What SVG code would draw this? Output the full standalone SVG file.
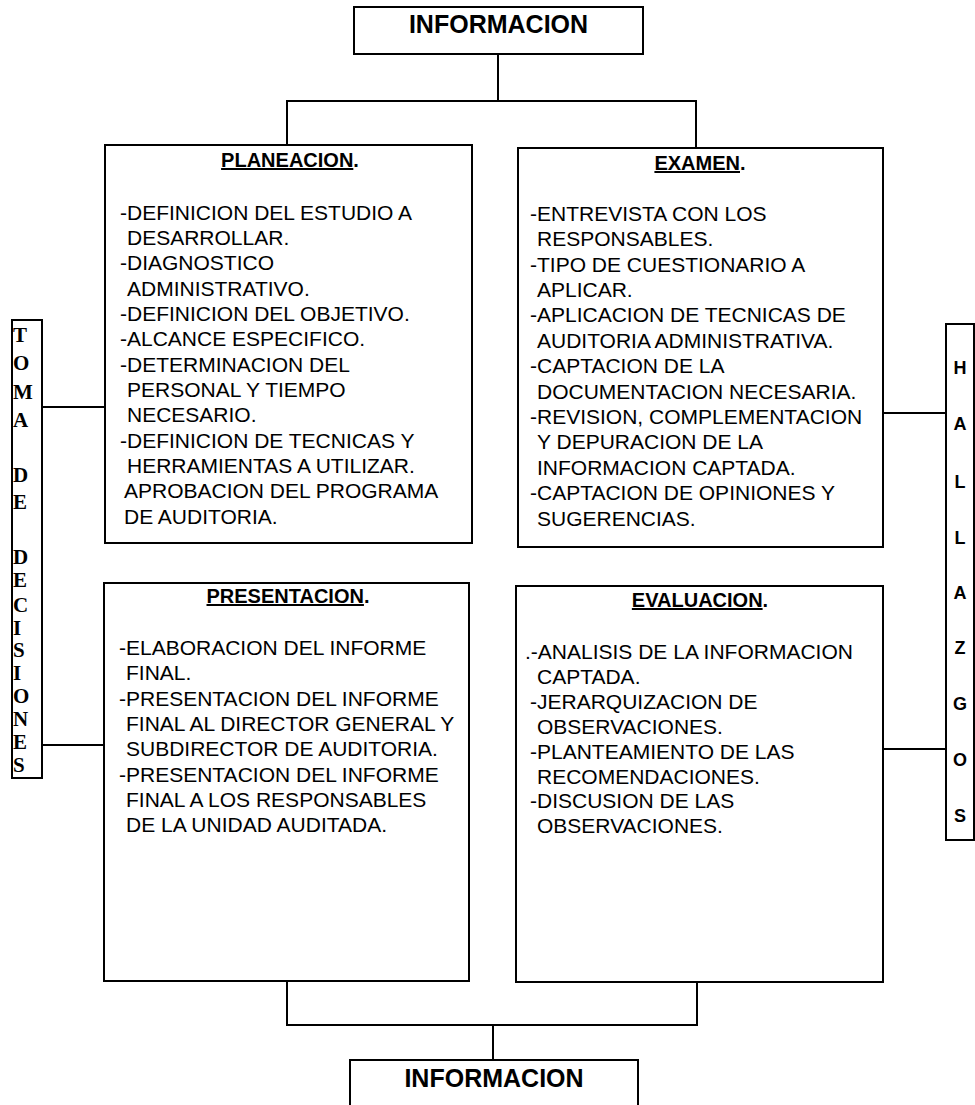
<svg xmlns="http://www.w3.org/2000/svg" width="975" height="1105" viewBox="0 0 975 1105">
<style>
.box{fill:#fff;stroke:#000;stroke-width:2}
.conn{fill:none;stroke:#000;stroke-width:2}
.t{font-family:"Liberation Sans",Arial,sans-serif;font-size:21px;fill:#000}
.ttl{font-family:"Liberation Sans",Arial,sans-serif;font-size:20px;font-weight:bold;fill:#000;text-anchor:middle}
.info{font-family:"Liberation Sans",Arial,sans-serif;font-size:25px;font-weight:bold;fill:#000;text-anchor:middle}
.lv{font-family:"Liberation Serif","Times New Roman",serif;font-size:21px;font-weight:bold;fill:#000}
.rv{font-family:"Liberation Sans",Arial,sans-serif;font-size:18px;font-weight:bold;fill:#000;text-anchor:middle}
</style>
<rect width="975" height="1105" fill="#fff"/>
<g id="connectors">
<path class="conn" d="M498,54 V101"/>
<path class="conn" d="M287,145 V101 H696 V148"/>
<path class="conn" d="M287,981 V1025 H697 V982"/>
<path class="conn" d="M493,1025 V1060"/>
<path class="conn" d="M42,407 H105"/>
<path class="conn" d="M42,745 H104"/>
<path class="conn" d="M883,413 H946"/>
<path class="conn" d="M883,749 H946"/>
</g>
<g id="informacion-top">
<rect class="box" x="354" y="7" width="289" height="47"/>
<text class="info" x="498.5" y="33">INFORMACION</text>
</g>
<g id="planeacion">
<rect class="box" x="105" y="145" width="367" height="398"/>
<text class="ttl" x="290" y="167"><tspan text-decoration="underline">PLANEACION</tspan>.</text>
<text class="t" x="120" y="219.5">-DEFINICION DEL ESTUDIO  A</text>
<text class="t" x="127" y="245">DESARROLLAR.</text>
<text class="t" x="120" y="270">-DIAGNOSTICO</text>
<text class="t" x="127" y="295.5">ADMINISTRATIVO.</text>
<text class="t" x="120" y="321">-DEFINICION DEL OBJETIVO.</text>
<text class="t" x="120" y="346">-ALCANCE ESPECIFICO.</text>
<text class="t" x="120" y="371.5">-DETERMINACION DEL</text>
<text class="t" x="127" y="397">PERSONAL Y TIEMPO</text>
<text class="t" x="127" y="422">NECESARIO.</text>
<text class="t" x="120" y="447.5">-DEFINICION DE TECNICAS Y</text>
<text class="t" x="127" y="473">HERRAMIENTAS A UTILIZAR.</text>
<text class="t" x="124" y="498">APROBACION DEL PROGRAMA</text>
<text class="t" x="124" y="523.5">DE AUDITORIA.</text>
</g>
<g id="examen">
<rect class="box" x="518" y="148" width="365" height="399"/>
<text class="ttl" x="700" y="170"><tspan text-decoration="underline">EXAMEN</tspan>.</text>
<text class="t" x="530" y="221">-ENTREVISTA CON LOS</text>
<text class="t" x="537" y="246">RESPONSABLES.</text>
<text class="t" x="530" y="272">-TIPO DE CUESTIONARIO A</text>
<text class="t" x="537" y="297">APLICAR.</text>
<text class="t" x="530" y="322">-APLICACION DE TECNICAS DE</text>
<text class="t" x="537" y="348">AUDITORIA ADMINISTRATIVA.</text>
<text class="t" x="530" y="373">-CAPTACION DE LA</text>
<text class="t" x="537" y="399">DOCUMENTACION NECESARIA.</text>
<text class="t" x="530" y="424">-REVISION, COMPLEMENTACION</text>
<text class="t" x="537" y="449">Y DEPURACION DE LA</text>
<text class="t" x="537" y="475">INFORMACION CAPTADA.</text>
<text class="t" x="530" y="500">-CAPTACION DE OPINIONES Y</text>
<text class="t" x="537" y="526">SUGERENCIAS.</text>
</g>
<g id="presentacion">
<rect class="box" x="104" y="583" width="365" height="398"/>
<text class="ttl" x="288" y="603"><tspan text-decoration="underline">PRESENTACION</tspan>.</text>
<text class="t" x="119" y="655">-ELABORACION DEL INFORME</text>
<text class="t" x="126" y="680">FINAL.</text>
<text class="t" x="119" y="706">-PRESENTACION DEL INFORME</text>
<text class="t" x="126" y="731">FINAL AL DIRECTOR GENERAL Y</text>
<text class="t" x="126" y="756">SUBDIRECTOR DE AUDITORIA.</text>
<text class="t" x="119" y="782">-PRESENTACION DEL INFORME</text>
<text class="t" x="126" y="807">FINAL A LOS RESPONSABLES</text>
<text class="t" x="126" y="832">DE LA UNIDAD AUDITADA.</text>
</g>
<g id="evaluacion">
<rect class="box" x="516" y="586" width="367" height="396"/>
<text class="ttl" x="700" y="607"><tspan text-decoration="underline">EVALUACION</tspan>.</text>
<text class="t" x="525" y="659">.-ANALISIS DE LA INFORMACION</text>
<text class="t" x="537" y="684">CAPTADA.</text>
<text class="t" x="530" y="709">-JERARQUIZACION DE</text>
<text class="t" x="537" y="734">OBSERVACIONES.</text>
<text class="t" x="530" y="759">-PLANTEAMIENTO DE LAS</text>
<text class="t" x="537" y="784">RECOMENDACIONES.</text>
<text class="t" x="530" y="808">-DISCUSION DE LAS</text>
<text class="t" x="537" y="833">OBSERVACIONES.</text>
</g>
<g id="informacion-bottom">
<rect class="box" x="350" y="1060" width="288" height="60"/>
<text class="info" x="494" y="1087">INFORMACION</text>
</g>
<g id="toma-de-decisiones">
<rect class="box" x="12" y="320" width="30" height="458"/>
<text class="lv" x="13" y="342">T</text>
<text class="lv" x="13" y="370">O</text>
<text class="lv" x="13" y="399">M</text>
<text class="lv" x="13" y="427">A</text>
<text class="lv" x="13" y="482">D</text>
<text class="lv" x="13" y="509">E</text>
<text class="lv" x="13" y="564">D</text>
<text class="lv" x="13" y="587">E</text>
<text class="lv" x="13" y="612">C</text>
<text class="lv" x="13" y="635">I</text>
<text class="lv" x="13" y="657">S</text>
<text class="lv" x="13" y="680">I</text>
<text class="lv" x="13" y="703">O</text>
<text class="lv" x="13" y="726">N</text>
<text class="lv" x="13" y="749">E</text>
<text class="lv" x="13" y="772">S</text>
</g>
<g id="hallazgos">
<rect class="box" x="946" y="324" width="28" height="516"/>
<text class="rv" x="960" y="374">H</text>
<text class="rv" x="960" y="430">A</text>
<text class="rv" x="960" y="488">L</text>
<text class="rv" x="960" y="544">L</text>
<text class="rv" x="960" y="599">A</text>
<text class="rv" x="960" y="654">Z</text>
<text class="rv" x="960" y="710">G</text>
<text class="rv" x="960" y="766">O</text>
<text class="rv" x="960" y="822">S</text>
</g>
</svg>
